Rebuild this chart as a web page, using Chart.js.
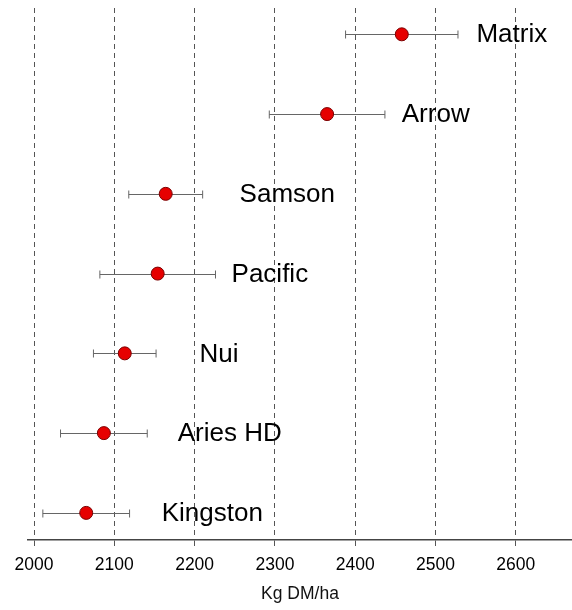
<!DOCTYPE html>
<html>
<head>
<meta charset="utf-8">
<script src="https://cdn.jsdelivr.net/npm/chart.js@4"></script>
<style>
  html, body { margin: 0; padding: 0; background: #fff; }
  #wrap { width: 572px; height: 610px; position: relative; }
</style>
</head>
<body>
<div id="wrap"><canvas id="chart"></canvas></div>
<script>
// cultivars, top to bottom
const varieties = ['Matrix', 'Arrow', 'Samson', 'Pacific', 'Nui', 'Aries HD', 'Kingston'];
const yieldMeans = [2458, 2365, 2164, 2154, 2113, 2087, 2065];
const yieldErr = [70, 72, 46, 72, 39, 54, 54];
const xTicks = [2000, 2100, 2200, 2300, 2400, 2500, 2600];

// where each name starts, in kg DM/ha
const labelAt = [2551, 2458, 2256, 2246, 2206, 2179, 2159];

const n = varieties.length;
const points = varieties.map((v, i) => ({ x: yieldMeans[i], y: n - i }));

const errorBars = {
  id: 'errorBars',
  beforeDatasetsDraw(chart) {
    const { ctx, scales: { x, y } } = chart;
    ctx.save();
    ctx.strokeStyle = '#666';
    ctx.lineWidth = 1;
    points.forEach((p, i) => {
      const py = Math.round(y.getPixelForValue(p.y)) + 0.5;
      const x1 = x.getPixelForValue(p.x - yieldErr[i]);
      const x2 = x.getPixelForValue(p.x + yieldErr[i]);
      ctx.beginPath();
      ctx.moveTo(x1, py); ctx.lineTo(x2, py);
      ctx.moveTo(x1, py - 4); ctx.lineTo(x1, py + 4);
      ctx.moveTo(x2, py - 4); ctx.lineTo(x2, py + 4);
      ctx.stroke();
    });
    ctx.restore();
  },
  afterDatasetsDraw(chart) {
    const { ctx, scales: { x, y } } = chart;
    ctx.save();
    ctx.fillStyle = '#000';
    ctx.font = '26px "Liberation Sans", Arial, sans-serif';
    ctx.textBaseline = 'middle';
    ctx.textAlign = 'left';
    points.forEach((p, i) => {
      ctx.fillText(varieties[i], x.getPixelForValue(labelAt[i]), y.getPixelForValue(p.y) + 1);
    });
    ctx.restore();
  }
};

new Chart(document.getElementById('chart'), {
  type: 'scatter',
  data: {
    datasets: [{
      data: points,
      pointRadius: 6.5,
      pointHoverRadius: 6.5,
      pointBackgroundColor: '#e60000',
      pointBorderColor: '#7a0000',
      pointBorderWidth: 1
    }]
  },
  options: {
    responsive: true,
    maintainAspectRatio: false,
    animation: false,
    events: [],
    layout: { autoPadding: false, padding: { left: 28, right: 0, top: 8, bottom: 7.5 } },
    plugins: { legend: { display: false }, tooltip: { enabled: false } },
    scales: {
      x: {
        type: 'linear',
        min: 1992.5,
        max: 2670,
        afterBuildTicks: (axis) => {
          axis.ticks = xTicks.map(v => ({ value: v }));
        },
        afterFit: (axis) => {
          axis.paddingLeft = 0;
          axis.paddingRight = 0;
        },
        ticks: {
          includeBounds: false,
          stepSize: 100,
          color: '#000',
          padding: 9,
          callback: (v) => String(v),
          font: { family: '"Liberation Sans", Arial, sans-serif', size: 17.5 }
        },
        grid: {
          color: '#555',
          lineWidth: 1,
          tickLength: 6,
          tickColor: '#555',
          tickBorderDash: []
        },
        border: { display: true, color: '#444', width: 1.5, dash: [5, 4] },
        title: {
          display: true,
          text: 'Kg DM/ha',
          color: '#111',
          padding: { top: 0, bottom: 0 },
          font: { family: '"Liberation Sans", Arial, sans-serif', size: 17.5, lineHeight: 1 }
        }
      },
      y: {
        type: 'linear',
        display: false,
        min: 0.66,
        max: 7.33
      }
    }
  },
  plugins: [errorBars]
});
</script>
</body>
</html>
